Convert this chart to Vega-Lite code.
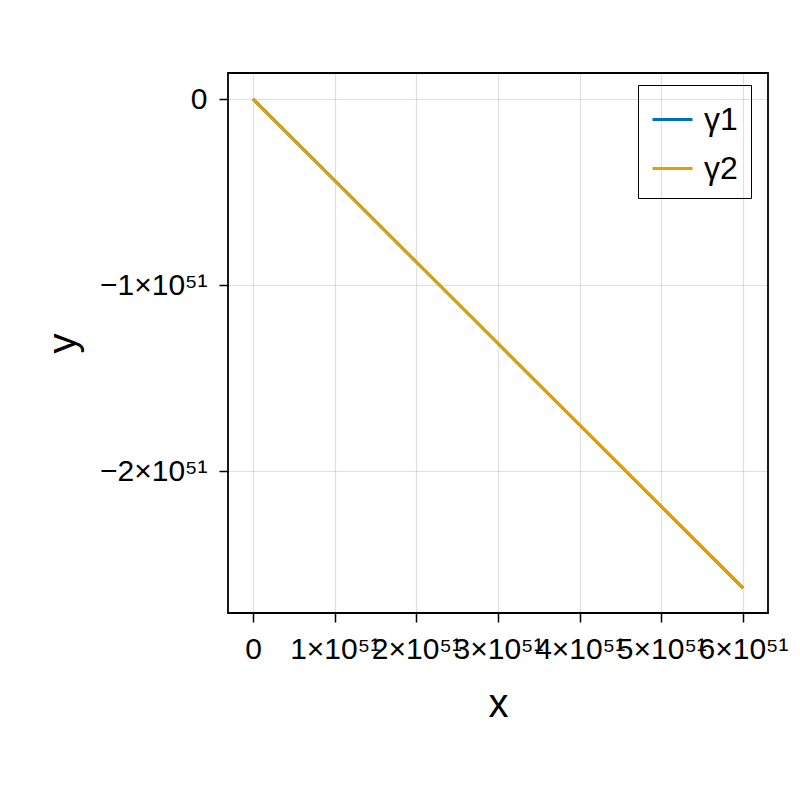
{
  "$schema": "https://vega.github.io/schema/vega-lite/v6.json",
  "width": 540,
  "height": 540,
  "autosize": "none",
  "padding": {"left": 228, "top": 73, "right": 32, "bottom": 187},
  "background": "white",
  "config": {
    "font": "Liberation Sans",
    "view": {"stroke": "black", "strokeWidth": 1.8},
    "axis": {
      "domain": false,
      "grid": true,
      "gridColor": "#000000",
      "gridOpacity": 0.12,
      "gridWidth": 1.2,
      "tickColor": "black",
      "tickSize": 9,
      "tickWidth": 1.5,
      "labelFont": "Liberation Sans",
      "labelFontSize": 30,
      "labelColor": "black",
      "titleFont": "Liberation Sans",
      "titleFontSize": 40,
      "titleFontWeight": "normal",
      "titleColor": "black"
    }
  },
  "data": {
    "values": [
      {"series": "γ1", "x": 0, "y": 0},
      {"series": "γ1", "x": 1e51, "y": -4.382e50},
      {"series": "γ1", "x": 2e51, "y": -8.763e50},
      {"series": "γ1", "x": 3e51, "y": -1.3145e51},
      {"series": "γ1", "x": 4e51, "y": -1.7527e51},
      {"series": "γ1", "x": 5e51, "y": -2.1908e51},
      {"series": "γ1", "x": 6e51, "y": -2.629e51},
      {"series": "γ2", "x": 0, "y": 0},
      {"series": "γ2", "x": 1e51, "y": -4.382e50},
      {"series": "γ2", "x": 2e51, "y": -8.763e50},
      {"series": "γ2", "x": 3e51, "y": -1.3145e51},
      {"series": "γ2", "x": 4e51, "y": -1.7527e51},
      {"series": "γ2", "x": 5e51, "y": -2.1908e51},
      {"series": "γ2", "x": 6e51, "y": -2.629e51}
    ]
  },
  "encoding": {
    "x": {
      "field": "x",
      "type": "quantitative",
      "scale": {"domain": [-3.06e50, 6.306e51], "nice": false, "zero": false},
      "axis": {
        "title": "x",
        "values": [0, 1e51, 2e51, 3e51, 4e51, 5e51, 6e51],
        "labelExpr": "datum.value == 0 ? '0' : replace(format(datum.value / 1e51, '.0f'), '-', '−') + '×10⁵¹'",
        "labelPadding": 12,
        "labelOverlap": false,
        "labelFlush": false,
        "titlePadding": 20
      }
    },
    "y": {
      "field": "y",
      "type": "quantitative",
      "scale": {"domain": [-2.763e51, 1.398e50], "nice": false, "zero": false},
      "axis": {
        "title": "y",
        "values": [0, -1e51, -2e51],
        "labelExpr": "datum.value == 0 ? '0' : replace(format(datum.value / 1e51, '.0f'), '-', '−') + '×10⁵¹'",
        "labelPadding": 12,
        "labelOverlap": false,
        "titlePadding": 16
      }
    },
    "color": {
      "field": "series",
      "type": "nominal",
      "scale": {"domain": ["γ1", "γ2"], "range": ["#0072B2", "#E69F00"]},
      "legend": {
        "title": null,
        "orient": "none",
        "legendX": 410,
        "legendY": 12,
        "direction": "vertical",
        "strokeColor": "black",
        "padding": 13,
        "symbolType": "stroke",
        "symbolSize": 1600,
        "symbolStrokeWidth": 3,
        "labelFont": "Liberation Sans",
        "labelFontSize": 32,
        "labelColor": "black",
        "labelOffset": 10,
        "rowPadding": 11
      }
    }
  },
  "layer": [
    {
      "transform": [{"filter": "datum.series == 'γ1'"}],
      "mark": {"type": "line", "strokeWidth": 3, "clip": true}
    },
    {
      "transform": [{"filter": "datum.series == 'γ2'"}],
      "mark": {"type": "line", "strokeWidth": 3, "clip": true}
    }
  ]
}
